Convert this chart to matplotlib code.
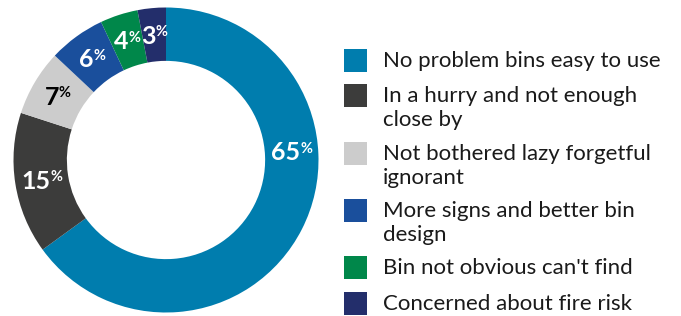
import matplotlib
matplotlib.use("Agg")
import matplotlib.pyplot as plt
from matplotlib.patches import Rectangle
from matplotlib.transforms import offset_copy
import numpy as np

plt.rcParams['font.family'] = ['Lato', 'DejaVu Sans']

categories = ["No problem bins easy to use",
              "In a hurry and not enough\nclose by",
              "Not bothered lazy forgetful\nignorant",
              "More signs and better bin\ndesign",
              "Bin not obvious can't find",
              "Concerned about fire risk"]
values = [65, 15, 7, 6, 4, 3]
colors = ["#007DAE", "#3C3C3B", "#CCCCCC", "#1A4F9C", "#00874A", "#232E6B"]
label_colors = ["white", "white", "black", "white", "white", "white"]

W, H = 681, 316
fig = plt.figure(figsize=(W / 100, H / 100), dpi=100)

# donut axes
cx, cy, R = 166, 160, 152.5
ax = fig.add_axes([(cx - R) / W, (H - cy - R) / H, 2 * R / W, 2 * R / H])
ring = 0.35
wedges, _ = ax.pie(values, colors=colors, startangle=90, counterclock=False,
                   radius=1, wedgeprops=dict(width=ring, linewidth=0))
ax.set_xlim(-1, 1)
ax.set_ylim(-1, 1)
ax.set_aspect('equal')
ax.axis('off')

renderer = fig.canvas.get_renderer()
num_size, pct_size = 18, 10.5
cap = 0.72
big_label_angle = 4  # the large slice's label sits at the right side
rmid = 1 - ring / 2
for i, (w, v) in enumerate(zip(wedges, values)):
    ang = (w.theta1 + w.theta2) / 2
    if v == max(values):
        ang = big_label_angle
    x, y = rmid * np.cos(np.radians(ang)), rmid * np.sin(np.radians(ang))
    t = ax.text(x, y, str(v), fontsize=num_size, fontweight='bold',
                color=label_colors[i], ha='left', va='baseline')
    p = ax.text(x, y, '%', fontsize=pct_size, fontweight='bold',
                color=label_colors[i], ha='left', va='baseline')
    w1 = t.get_window_extent(renderer).width
    w2 = p.get_window_extent(renderer).width
    tot = w1 + w2
    dy = -cap * num_size / 2 * 100 / 72
    t.set_transform(offset_copy(ax.transData, fig, x=-tot / 2, y=dy, units='dots'))
    dyp = dy + cap * (num_size - pct_size) * 100 / 72
    p.set_transform(offset_copy(ax.transData, fig, x=-tot / 2 + w1, y=dyp, units='dots'))

# legend
sq = 23
sx = 344
tx = 383
y = 49
line_h = 24
for c, lab in zip(colors, categories):
    fig.patches.append(Rectangle((sx / W, 1 - (y + sq) / H), sq / W, sq / H,
                                 transform=fig.transFigure, facecolor=c,
                                 edgecolor='none'))
    lines = lab.split("\n")
    for k, ln in enumerate(lines):
        fig.text(tx / W, 1 - (y + 18 + k * line_h) / H, ln, fontsize=16,
                 color='#1a1a1a', ha='left', va='baseline')
    y += 13 + 22.2 * len(lines)

fig.savefig("out.png", dpi=100)
